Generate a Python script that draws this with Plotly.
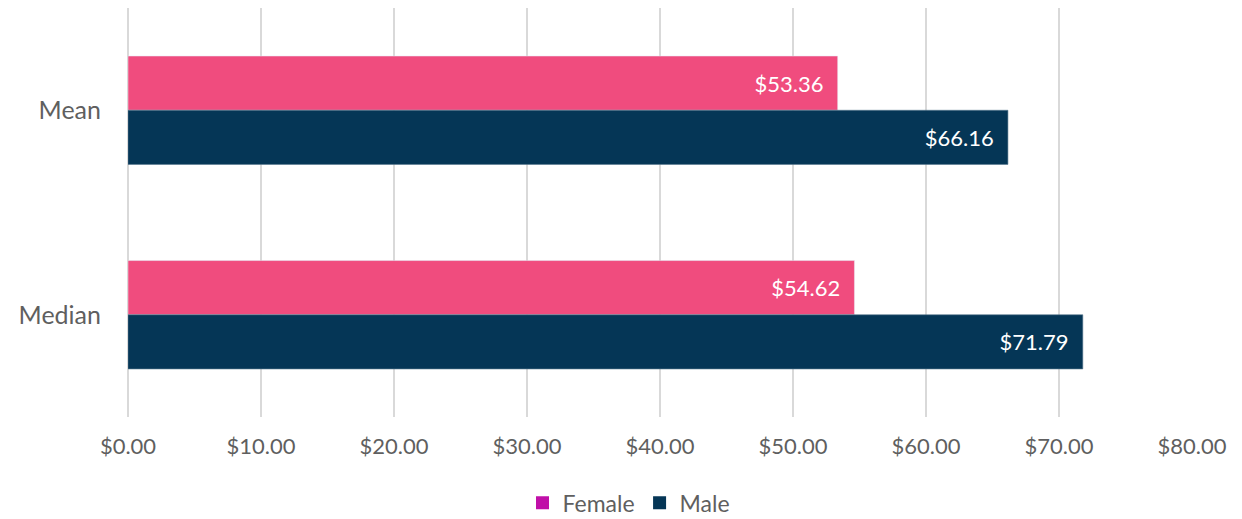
import plotly.graph_objects as go

categories = ["Mean", "Median"]
female = [53.36, 54.62]
male = [66.16, 71.79]
tick_vals = [0, 10, 20, 30, 40, 50, 60, 70, 80]
tick_text = [f"${v:.2f}" for v in tick_vals]

FONT = "Lato, 'DejaVu Sans', sans-serif"
GRAY = "#5f5f5f"
PAD = "\u00a0\u00a0"

fig = go.Figure()
fig.add_trace(go.Bar(
    y=categories, x=female, orientation="h", name="Female",
    marker=dict(color="#F04C7E"), showlegend=False,
    text=[f"${v:.2f}{PAD}" for v in female], textposition="inside",
    insidetextanchor="end", textfont=dict(color="white", size=22, family=FONT),
))
fig.add_trace(go.Bar(
    y=categories, x=male, orientation="h", name="Male",
    marker=dict(color="#053656", line=dict(color="#5a7a90", width=0.6)), showlegend=False,
    text=[f"${v:.2f}{PAD}" for v in male], textposition="inside",
    insidetextanchor="end", textfont=dict(color="white", size=22, family=FONT),
))
# legend-only entries
fig.add_trace(go.Scatter(y=[None], x=[None], mode="markers", name="Female",
                         marker=dict(color="#C00FA8", symbol="square", size=13)))
fig.add_trace(go.Scatter(y=[None], x=[None], mode="markers", name="Male",
                         marker=dict(color="#053656", symbol="square", size=13)))

fig.update_layout(
    width=1242, height=519,
    margin=dict(l=120, r=58, t=0, b=110),
    barmode="group", bargap=0.47, bargroupgap=0,
    plot_bgcolor="white", paper_bgcolor="white",
    font=dict(family=FONT, color=GRAY, size=22),
    showlegend=True,
    legend=dict(orientation="h", xref="container", x=0.5, xanchor="center",
                yref="container", y=0.005, yanchor="bottom",
                font=dict(size=23, color=GRAY), traceorder="normal",
                itemwidth=30, tracegroupgap=0),
    uniformtext=dict(mode=False),
)
fig.update_xaxes(range=[0, 80], tickvals=tick_vals, ticktext=tick_text,
                 showgrid=True, gridcolor="#D9D9D9", gridwidth=1.5,
                 zeroline=True, zerolinecolor="#D9D9D9", zerolinewidth=1.5,
                 showline=False, ticks="", ticklabelstandoff=14, automargin=False,
                 tickfont=dict(size=22, color=GRAY))
fig.update_yaxes(autorange="reversed", showgrid=False, showline=False, ticks="",
                 ticklabelstandoff=26, automargin=False,
                 tickfont=dict(size=25, color=GRAY))

fig.write_html("out.html")
